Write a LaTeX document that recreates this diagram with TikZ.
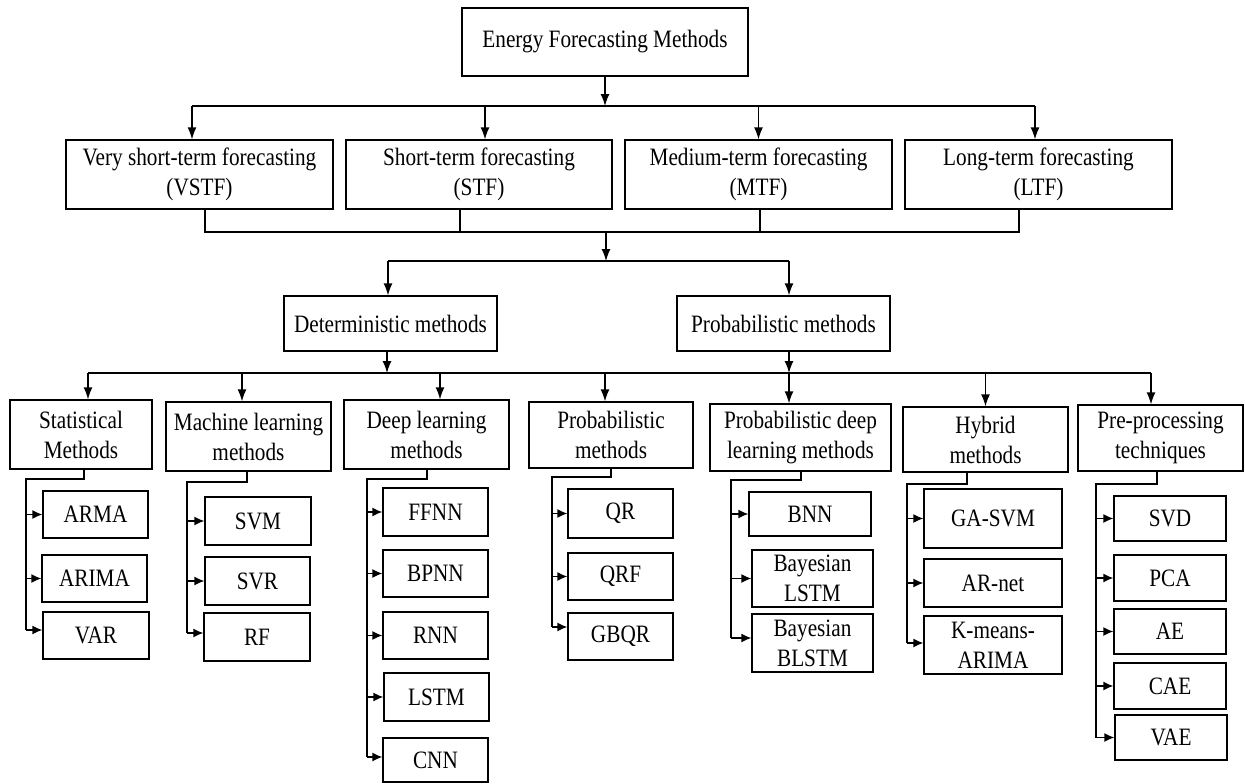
\documentclass[tikz,border=0pt]{standalone}
\usepackage{fontspec}
\setmainfont{Liberation Serif}[FakeStretch=0.85]
\usetikzlibrary{arrows.meta}
\begin{document}
\begin{tikzpicture}[x=1pt,y=-1pt,
  box/.style={draw, line width=1.3pt, align=center, inner sep=0pt, font=\fontsize{25}{30}\selectfont},
  big/.style={font=\fontsize{25}{30}\selectfont},
  ln/.style={line width=1.3pt},
  arr/.style={line width=1.3pt, -{Latex[length=12pt,width=9pt]}},
  sarr/.style={line width=1.3pt, -{Latex[length=10pt,width=9pt]}},
]
\useasboundingbox (0,0) rectangle (1245,784);

% level 1-3
\node[box,big,minimum width=286pt,minimum height=68pt] (top) at (605,42) {Energy Forecasting Methods};
\node[box,big,minimum width=267pt,minimum height=69pt] (vstf) at (199.5,174.5) {Very short-term forecasting\\(VSTF)};
\node[box,big,minimum width=266pt,minimum height=69pt] (stf) at (479,174.5) {Short-term forecasting\\(STF)};
\node[box,big,minimum width=267pt,minimum height=69pt] (mtf) at (758.5,174.5) {Medium-term forecasting\\(MTF)};
\node[box,big,minimum width=267pt,minimum height=69pt] (ltf) at (1038.5,174.5) {Long-term forecasting\\(LTF)};
\node[box,minimum width=213pt,minimum height=55pt] (det) at (390.5,323.5) {Deterministic methods};
\node[box,minimum width=213pt,minimum height=55pt] (prob) at (783.5,323.5) {Probabilistic methods};

% level 4
\node[box,minimum width=142pt,minimum height=69pt] (stat) at (81,434.5) {Statistical\\Methods};
\node[box,minimum width=165pt,minimum height=69pt] (ml) at (248.5,436.5) {Machine learning\\methods};
\node[box,minimum width=165pt,minimum height=69pt] (dl) at (426.5,434.5) {Deep learning\\methods};
\node[box,minimum width=164pt,minimum height=66pt] (pm) at (611,435) {Probabilistic\\methods};
\node[box,minimum width=181pt,minimum height=67pt] (pdl) at (800.5,437.5) {Probabilistic deep\\learning methods};
\node[box,minimum width=165pt,minimum height=65pt] (hyb) at (985.5,439.5) {Hybrid\\methods};
\node[box,minimum width=165pt,minimum height=66pt] (pre) at (1160.5,438) {Pre-processing\\techniques};

% children
\node[box,minimum width=105pt,minimum height=47pt] (arma) at (95.5,514.5) {ARMA};
\node[box,minimum width=105pt,minimum height=47pt] (arima) at (94.5,578.5) {ARIMA};
\node[box,minimum width=106pt,minimum height=47pt] (var) at (96,635.5) {VAR};

\node[box,minimum width=106pt,minimum height=48pt] (svm) at (258,521) {SVM};
\node[box,minimum width=105pt,minimum height=48pt] (svr) at (257.5,581) {SVR};
\node[box,minimum width=106pt,minimum height=48pt] (rf) at (257,637) {RF};

\node[box,minimum width=105pt,minimum height=48pt] (ffnn) at (435.5,512) {FFNN};
\node[box,minimum width=105pt,minimum height=47pt] (bpnn) at (435.5,573.5) {BPNN};
\node[box,minimum width=105pt,minimum height=47pt] (rnn) at (435.5,635.5) {RNN};
\node[box,minimum width=105pt,minimum height=48pt] (lstm) at (436.5,697) {LSTM};
\node[box,minimum width=105pt,minimum height=44pt] (cnn) at (435.5,760) {CNN};

\node[box,minimum width=105pt,minimum height=49pt] (qr) at (620.5,513.5) {QR};
\node[box,minimum width=105pt,minimum height=47pt] (qrf) at (620.5,576.5) {QRF};
\node[box,minimum width=105pt,minimum height=47pt] (gbqr) at (620.5,636.5) {GBQR};

\node[box,minimum width=122pt,minimum height=44pt] (bnn) at (810,514) {BNN};
\node[box,minimum width=121pt,minimum height=57pt] (blstma) at (812.5,578.5) {Bayesian\\LSTM};
\node[box,minimum width=121pt,minimum height=58pt] (blstmb) at (812.5,643) {Bayesian\\BLSTM};

\node[box,minimum width=138pt,minimum height=59pt] (gasvm) at (993,518.5) {GA-SVM};
\node[box,minimum width=138pt,minimum height=48pt] (arnet) at (993,583) {AR-net};
\node[box,minimum width=138pt,minimum height=58pt] (kmeans) at (993,645) {K-means-\\ARIMA};

\node[box,minimum width=112pt,minimum height=45pt] (svd) at (1170,518.5) {SVD};
\node[box,minimum width=112pt,minimum height=46pt] (pca) at (1170,578) {PCA};
\node[box,minimum width=112pt,minimum height=45pt] (ae) at (1170,631.5) {AE};
\node[box,minimum width=112pt,minimum height=46pt] (cae) at (1170,686) {CAE};
\node[box,minimum width=112pt,minimum height=45pt] (vae) at (1171,737.5) {VAE};

% connectors level 1 -> 2
\coordinate (b1) at (605,106);
\coordinate (b1l) at (192,106);
\coordinate (b1r) at (1035,106);
\draw[arr] (top.south) -- (b1);
\draw[ln] (b1l) -- (b1r);
\draw[arr] (b1l) -- (b1l |- vstf.north);
\draw[arr] ([xshift=6pt]stf.north |- b1) -- ([xshift=6pt]stf.north);
\draw[arr] (mtf.north |- b1) -- (mtf.north);
\draw[arr] (b1r) -- (b1r |- ltf.north);

% level 2 -> 3
\coordinate (b2) at (606,232);
\coordinate (b3) at (606,261);
\draw[ln] ([xshift=5.5pt]vstf.south) |- ([xshift=-19.5pt]ltf.south |- b2) -- ([xshift=-19.5pt]ltf.south);
\draw[ln] ([xshift=-19pt]stf.south) -- ([xshift=-19pt]stf.south |- b2);
\draw[ln] ([xshift=1.5pt]mtf.south) -- ([xshift=1.5pt]mtf.south |- b2);
\draw[arr] (b2) -- (b3);
\draw[ln] ([xshift=-2.5pt]det.north |- b3) -- ([xshift=5.5pt]prob.north |- b3);
\draw[arr] ([xshift=-2.5pt]det.north |- b3) -- ([xshift=-2.5pt]det.north);
\draw[arr] ([xshift=5.5pt]prob.north |- b3) -- ([xshift=5.5pt]prob.north);

% level 3 -> 4
\coordinate (b4) at (605,373);
\coordinate (b4l) at (88,373);
\coordinate (b4r) at (1151,373);
\draw[arr] ([xshift=-3.5pt]det.south) -- ([xshift=-3.5pt]det.south |- b4);
\draw[arr] ([xshift=5.5pt]prob.south) -- ([xshift=5.5pt]prob.south |- b4);
\draw[ln] (b4l) -- (b4r);
\draw[arr] (b4l) -- (b4l |- stat.north);
\draw[arr] ([xshift=-6.5pt]ml.north |- b4) -- ([xshift=-6.5pt]ml.north);
\draw[arr] ([xshift=13.5pt]dl.north |- b4) -- ([xshift=13.5pt]dl.north);
\draw[arr] ([xshift=-6pt]pm.north |- b4) -- ([xshift=-6pt]pm.north);
\draw[arr] ([xshift=-11.5pt]pdl.north |- b4) -- ([xshift=-11.5pt]pdl.north);
\draw[arr] (hyb.north |- b4) -- (hyb.north);
\draw[arr] (b4r) -- (b4r |- pre.north);

% statistical group
\coordinate (sA) at (26,479);
\coordinate (varp) at ([yshift=5.5pt]var.west);
\draw[ln] ([xshift=3pt]stat.south) |- (sA) -- (sA |- varp);
\draw[sarr] (sA |- arma.west) -- (arma.west);
\draw[sarr] (sA |- arima.west) -- (arima.west);
\draw[sarr] (sA |- varp) -- (varp);

% machine learning group
\coordinate (mA) at (187,482);
\coordinate (rfp) at ([yshift=4pt]rf.west);
\draw[ln] ([xshift=-1.5pt]ml.south) |- (mA) -- (mA |- rfp);
\draw[sarr] (mA |- svm.west) -- (svm.west);
\draw[sarr] (mA |- svr.west) -- (svr.west);
\draw[sarr] (mA |- rfp) -- (rfp);

% deep learning group
\coordinate (dA) at (367,479);
\coordinate (cnnp) at ([yshift=3pt]cnn.west);
\draw[ln] ([xshift=0.5pt]dl.south) |- (dA) -- (dA |- cnnp);
\draw[sarr] (dA |- ffnn.west) -- (ffnn.west);
\draw[sarr] (dA |- bpnn.west) -- (bpnn.west);
\draw[sarr] (dA |- rnn.west) -- (rnn.west);
\draw[sarr] (dA |- lstm.west) -- (lstm.west);
\draw[sarr] (dA |- cnnp) -- (cnnp);

% probabilistic group
\coordinate (pA) at (552,477);
\coordinate (gbqrp) at ([yshift=9.5pt]gbqr.west);
\draw[ln] (pm.south) |- (pA) -- (pA |- gbqrp);
\draw[sarr] (pA |- qr.west) -- (qr.west);
\draw[sarr] (pA |- qrf.west) -- (qrf.west);
\draw[sarr] (pA |- gbqrp) -- (gbqrp);

% probabilistic deep learning group
\coordinate (qA) at (731,480);
\coordinate (blp) at ([yshift=5pt]blstmb.west);
\draw[ln] ([xshift=0.5pt]pdl.south) |- (qA) -- (qA |- blp);
\draw[sarr] (qA |- bnn.west) -- (bnn.west);
\draw[sarr] (qA |- blstma.west) -- (blstma.west);
\draw[sarr] (qA |- blp) -- (blp);

% hybrid group
\coordinate (hA) at (907,484);
\coordinate (kmp) at ([yshift=2pt]kmeans.west);
\draw[ln] ([xshift=-18.5pt]hyb.south) |- (hA) -- (hA |- kmp);
\draw[sarr] (hA |- gasvm.west) -- (gasvm.west);
\draw[sarr] (hA |- arnet.west) -- (arnet.west);
\draw[sarr] (hA |- kmp) -- (kmp);

% pre-processing group
\coordinate (rA) at (1096,484);
\draw[ln] ([xshift=-3.5pt]pre.south) |- (rA) -- (rA |- vae.west);
\draw[sarr] (rA |- svd.west) -- (svd.west);
\draw[sarr] (rA |- pca.west) -- (pca.west);
\draw[sarr] (rA |- ae.west) -- (ae.west);
\draw[sarr] (rA |- cae.west) -- (cae.west);
\draw[sarr] (rA |- vae.west) -- (vae.west);
\end{tikzpicture}
\end{document}
